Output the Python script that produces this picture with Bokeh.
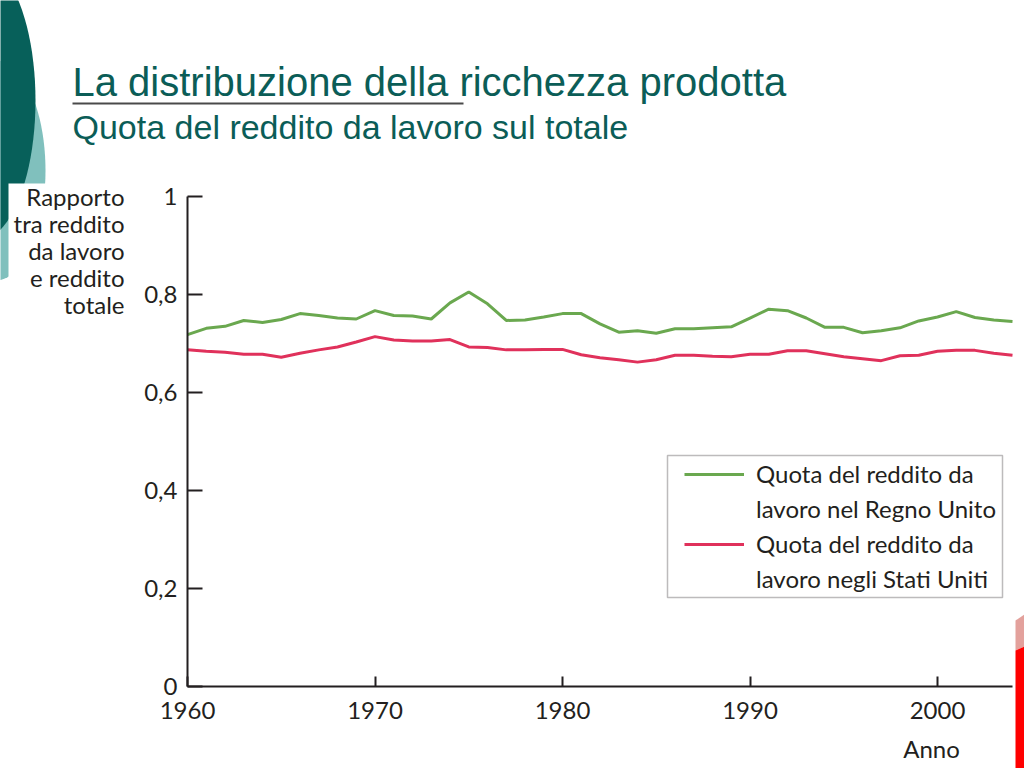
import math
from bokeh.plotting import figure
from bokeh.models import (Range1d, FixedTicker, Label, Legend, LegendItem,
                          BoxAnnotation, PolyAnnotation)
from bokeh.embed import file_html
from bokeh.resources import INLINE

# ---------------- data ----------------
years = [1960, 1961, 1962, 1963, 1964, 1965, 1966, 1967, 1968, 1969,
         1970, 1971, 1972, 1973, 1974, 1975, 1976, 1977, 1978, 1979,
         1980, 1981, 1982, 1983, 1984, 1985, 1986, 1987, 1988, 1989,
         1990, 1991, 1992, 1993, 1994, 1995, 1996, 1997, 1998, 1999,
         2000, 2001, 2002, 2003, 2004]
uk_share = [0.718, 0.731, 0.735, 0.747, 0.743, 0.749, 0.761, 0.757, 0.752, 0.750,
            0.767, 0.757, 0.756, 0.750, 0.783, 0.805, 0.781, 0.747, 0.748, 0.754,
            0.761, 0.761, 0.740, 0.723, 0.726, 0.721, 0.730, 0.730, 0.732, 0.734,
            0.752, 0.770, 0.767, 0.752, 0.733, 0.733, 0.722, 0.726, 0.732, 0.746,
            0.754, 0.765, 0.753, 0.748, 0.745]
us_share = [0.687, 0.684, 0.682, 0.678, 0.678, 0.672, 0.680, 0.687, 0.693, 0.703,
            0.714, 0.707, 0.705, 0.705, 0.708, 0.693, 0.692, 0.687, 0.687, 0.688,
            0.688, 0.677, 0.671, 0.667, 0.662, 0.667, 0.676, 0.676, 0.674, 0.673,
            0.678, 0.678, 0.685, 0.685, 0.679, 0.673, 0.669, 0.665, 0.675, 0.676,
            0.684, 0.686, 0.686, 0.680, 0.676]
x_ticks = [1960, 1970, 1980, 1990, 2000]
x_tick_labels = ["1960", "1970", "1980", "1990", "2000"]
y_ticks = [0, 0.2, 0.4, 0.6, 0.8, 1]
y_tick_labels = ["0", "0,2", "0,4", "0,6", "0,8", "1"]
title_text = "La distribuzione della ricchezza prodotta"
subtitle_text = "Quota del reddito da lavoro sul totale"
y_label_lines = ["Rapporto", "tra reddito", "da lavoro", "e reddito", "totale"]
x_label_text = "Anno"
uk_label_lines = ["Quota del reddito da", "lavoro nel Regno Unito"]
us_label_lines = ["Quota del reddito da", "lavoro negli Stati Uniti"]

# ---------------- styles / layout ----------------
GREEN = "#6aa84f"
RED = "#e0315b"
INK = "#231f20"
TEAL_DARK = "#07605a"
TEAL_LIGHT = "#80c0bd"
TITLE_COL = "#0b5d57"
FONT = "Lato"

W, H = 1024, 768
# axis placement on the page (pixels): year 1960 at x=187, 18.75 px per year;
# value 0 at y=686, value 1 at y=196
X0_PX, PX_PER_YEAR = 187.0, 18.75
Y0_PX, PX_PER_UNIT = 686.0, 490.0
x_start = 1960 - X0_PX / PX_PER_YEAR
x_end = x_start + W / PX_PER_YEAR
y_start = -(H - Y0_PX) / PX_PER_UNIT
y_end = y_start + H / PX_PER_UNIT

p = figure(width=W, height=H, output_backend="svg", toolbar_location=None,
           x_range=Range1d(x_start, x_end), y_range=Range1d(y_start, y_end),
           min_border=0, min_border_left=0, min_border_right=0,
           min_border_top=0, min_border_bottom=0)
p.outline_line_color = None
p.xgrid.visible = False
p.ygrid.visible = False
p.background_fill_color = "white"
p.border_fill_color = "white"

for ax in (p.xaxis[0], p.yaxis[0]):
    ax.axis_line_color = INK
    ax.axis_line_width = 2
    ax.major_tick_line_color = INK
    ax.major_tick_line_width = 2
    ax.minor_tick_line_color = None
    ax.major_tick_out = 0
    ax.major_label_text_font = FONT
    ax.major_label_text_font_size = "24px"
    ax.major_label_text_color = INK

p.xaxis.fixed_location = 0
p.xaxis.bounds = (years[0], years[-1])
p.xaxis.ticker = FixedTicker(ticks=x_ticks)
p.xaxis.major_label_overrides = dict(zip(x_ticks, x_tick_labels))
p.xaxis.major_tick_in = 10
p.xaxis.major_label_standoff = 15
p.yaxis.fixed_location = years[0]
p.yaxis.bounds = (y_ticks[0], y_ticks[-1])
p.yaxis.ticker = FixedTicker(ticks=y_ticks)
p.yaxis.major_label_overrides = dict(zip(y_ticks, y_tick_labels))
p.yaxis.major_tick_in = 15
p.yaxis.major_label_standoff = 10

r_uk = p.line(years, uk_share, line_color=GREEN, line_width=3)
r_us = p.line(years, us_share, line_color=RED, line_width=3)
r_blank = p.line([], [], line_alpha=0)

# page pixel -> screen units (frame == whole canvas, y measured upwards)
def sx(px):
    return px

def sy(py):
    return H - py

def box(l, t, r, b, **kw):
    return BoxAnnotation(left=sx(l), right=sx(r), top=sy(t), bottom=sy(b),
                         left_units="screen", right_units="screen",
                         top_units="screen", bottom_units="screen", **kw)

def ellipse_pts(cx, cy, rx, ry, n=90):
    xs = [sx(cx + rx * math.cos(2 * math.pi * i / n)) for i in range(n)]
    ys = [sy(cy + ry * math.sin(2 * math.pi * i / n)) for i in range(n)]
    return xs, ys

# ---------------- decorations ----------------
lx, ly = ellipse_pts(-5, 170, 50, 110)
p.add_layout(PolyAnnotation(xs=lx, ys=ly, xs_units="screen", ys_units="screen",
                            fill_color=TEAL_LIGHT, fill_alpha=1, line_color=None))
dx, dy = ellipse_pts(-22, 100, 57, 140)
p.add_layout(PolyAnnotation(xs=dx, ys=dy, xs_units="screen", ys_units="screen",
                            fill_color=TEAL_DARK, fill_alpha=1, line_color=None))
p.add_layout(box(8, 183, 132, 330, fill_color="white", fill_alpha=1, line_color=None))

p.add_layout(PolyAnnotation(xs=[sx(1015), sx(1024), sx(1024), sx(1015)],
                            ys=[sy(620), sy(614), sy(646), sy(650)],
                            xs_units="screen", ys_units="screen",
                            fill_color="#e3a19c", fill_alpha=1, line_color=None))
p.add_layout(PolyAnnotation(xs=[sx(1015), sx(1024), sx(1024), sx(1015)],
                            ys=[sy(650), sy(646), sy(768), sy(768)],
                            xs_units="screen", ys_units="screen",
                            fill_color="#ff0000", fill_alpha=1, line_color=None))

# ---------------- titles ----------------
p.add_layout(Label(x=sx(72), y=sy(81.5), x_units="screen", y_units="screen",
                   text=title_text, text_font="Liberation Sans",
                   text_font_size="40px", text_color=TITLE_COL,
                   text_baseline="alphabetic", text_align="left"))
p.add_layout(box(72, 102, 463, 104, fill_color="#4a4a4a", fill_alpha=1, line_color=None))
p.add_layout(Label(x=sx(72), y=sy(126.5), x_units="screen", y_units="screen",
                   text=subtitle_text, text_font="Liberation Sans",
                   text_font_size="34px", text_color=TITLE_COL,
                   text_baseline="alphabetic", text_align="left"))

# ---------------- axis titles ----------------
for i, line in enumerate(y_label_lines):
    p.add_layout(Label(x=sx(124), y=sy(196 + 27 * i), x_units="screen", y_units="screen",
                       text=line, text_font=FONT, text_font_size="24px",
                       text_color=INK, text_align="right", text_baseline="middle"))
p.add_layout(Label(x=sx(931), y=sy(748), x_units="screen", y_units="screen",
                   text=x_label_text, text_font=FONT, text_font_size="24px",
                   text_color=INK, text_align="center", text_baseline="middle"))

# ---------------- legend ----------------
p.add_layout(box(667, 455, 1002, 597, fill_alpha=0, line_color=INK, line_width=1.5))
items = [
    LegendItem(label=uk_label_lines[0], renderers=[r_uk]),
    LegendItem(label=uk_label_lines[1], renderers=[r_blank]),
    LegendItem(label=us_label_lines[0], renderers=[r_us]),
    LegendItem(label=us_label_lines[1], renderers=[r_blank]),
]
legend = Legend(items=items, location=(sx(684), sy(596)),
                orientation="vertical", glyph_width=60, glyph_height=20,
                label_standoff=12, label_height=35, spacing=0, padding=0, margin=0,
                border_line_alpha=0, background_fill_alpha=0,
                label_text_font=FONT, label_text_font_size="24px",
                label_text_color=INK)
p.add_layout(legend)

open("out.html", "w").write(file_html(p, INLINE))
